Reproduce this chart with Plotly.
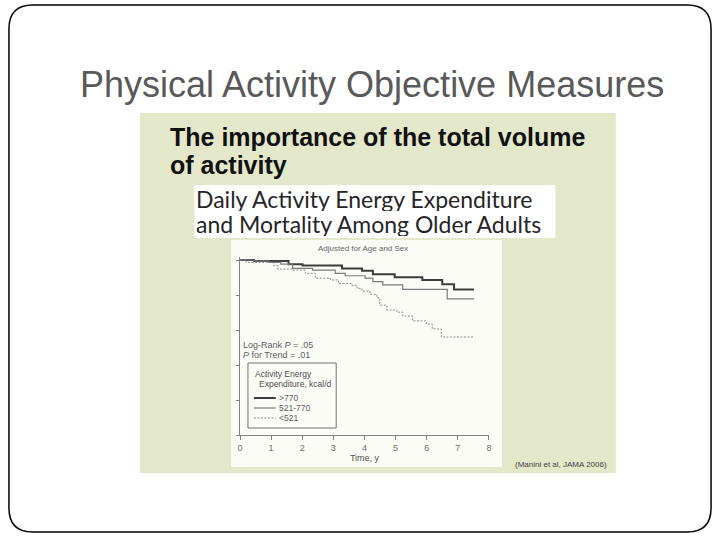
import plotly.graph_objects as go

W, H = 720, 540

# ---------------- data ----------------
series_names = ["&gt;770", "521-770", "&lt;521"]

t_high = [0, 0.45, 1.56, 2.01, 3.28, 3.92, 4.27, 4.97, 5.86, 6.50, 6.88, 7.52]
s_high = [1.0, 0.997, 0.988, 0.984, 0.976, 0.969, 0.959, 0.951, 0.943, 0.931, 0.916, 0.916]

t_mid = [0, 0.45, 0.92, 1.31, 1.69, 2.33, 3.06, 3.38, 4.02, 4.27, 4.59, 5.23, 6.66, 7.52]
s_mid = [1.0, 0.997, 0.993, 0.988, 0.976, 0.971, 0.962, 0.955, 0.948, 0.938, 0.929, 0.916, 0.889, 0.889]

t_low = [0, 0.20, 1.08, 1.21, 1.69, 2.10, 2.42, 2.90, 3.16, 3.60, 3.76, 3.92, 4.18, 4.40,
         4.49, 4.72, 5.04, 5.23, 5.55, 5.99, 6.18, 6.47, 7.52]
s_low = [1.0, 0.993, 0.984, 0.974, 0.971, 0.962, 0.948, 0.943, 0.933, 0.927, 0.919, 0.911, 0.902, 0.892,
         0.871, 0.857, 0.851, 0.840, 0.826, 0.817, 0.803, 0.780, 0.780]

x_ticks = [0, 1, 2, 3, 4, 5, 6, 7, 8]
y_ticks = [0.5, 0.6, 0.7, 0.8, 0.9, 1.0]

# ---------------- helpers (pixel -> paper) ----------------
def X(px):
    return px / W

def Y(py):
    return 1 - py / H

FONT = "Arial, Liberation Sans, sans-serif"

styles = [
    dict(color="#3c3c3c", width=2),
    dict(color="#7a7a7a", width=1.2),
    dict(color="#8a8a8a", width=1, dash="2px,1.5px"),
]

fig = go.Figure()
for tt, ss, nm, st in zip([t_high, t_mid, t_low], [s_high, s_mid, s_low], series_names, styles):
    fig.add_trace(go.Scatter(x=tt, y=ss, mode="lines", name=nm, showlegend=False,
                             line=dict(shape="hv", **st)))

# plot area: x 0 at px 239, 8 at px 490; y 0.5 at py 435, 0.1 per 35 px
y_top = 1.01
py_top = 435 - (y_top - 0.5) * 350
fig.update_layout(
    width=W, height=H,
    margin=dict(l=0, r=0, t=0, b=0),
    paper_bgcolor="white",
    plot_bgcolor="rgba(0,0,0,0)",
    showlegend=False,
    xaxis=dict(domain=[X(239), X(490)], range=[0, 8], tickvals=x_ticks,
               showgrid=False, zeroline=False, showline=True, linecolor="#808080", linewidth=1,
               ticks="outside", ticklen=4, tickcolor="#808080",
               tickfont=dict(family=FONT, size=9, color="#707070"),
               title=dict(text="Time, y", font=dict(family=FONT, size=9, color="#505050"), standoff=2)),
    yaxis=dict(domain=[Y(435), Y(py_top)], range=[0.5, y_top], tickvals=y_ticks,
               showticklabels=False, showgrid=False, zeroline=False, showline=True,
               linecolor="#808080", linewidth=1, ticks="outside", ticklen=3, tickcolor="#808080"),
)

shapes = [
    # beige panel
    dict(type="rect", xref="paper", yref="paper", x0=X(138), x1=X(618), y0=Y(473), y1=Y(113),
         fillcolor="#e4e8cb", line=dict(width=0), layer="below"),
    # white subtitle box
    dict(type="rect", xref="paper", yref="paper", x0=X(193), x1=X(557), y0=Y(238), y1=Y(185),
         fillcolor="white", line=dict(width=0), layer="below"),
    # chart inset
    dict(type="rect", xref="paper", yref="paper", x0=X(230), x1=X(503), y0=Y(467), y1=Y(240),
         fillcolor="#fcfcf7", line=dict(width=0), layer="below"),
    # legend box
    dict(type="rect", xref="paper", yref="paper", x0=X(247), x1=X(336), y0=Y(428), y1=Y(363),
         fillcolor="#fcfcf7", line=dict(color="#707070", width=1), layer="above"),
]

# legend samples
legend_rows = [398, 408, 418]
for py, st in zip(legend_rows, styles):
    shapes.append(dict(type="line", xref="paper", yref="paper", x0=X(253), x1=X(275),
                       y0=Y(py), y1=Y(py), line=st, layer="above"))

# rounded slide border
r = 24
l, rr, t, b = 6, 714, 5, 532
path = (f"M {X(l + r)},{Y(t)} L {X(rr - r)},{Y(t)} Q {X(rr)},{Y(t)} {X(rr)},{Y(t + r)} "
        f"L {X(rr)},{Y(b - r)} Q {X(rr)},{Y(b)} {X(rr - r)},{Y(b)} "
        f"L {X(l + r)},{Y(b)} Q {X(l)},{Y(b)} {X(l)},{Y(b - r)} "
        f"L {X(l)},{Y(t + r)} Q {X(l)},{Y(t)} {X(l + r)},{Y(t)} Z")
shapes.append(dict(type="path", xref="paper", yref="paper", path=path,
                   line=dict(color="black", width=1.5), fillcolor="rgba(0,0,0,0)", layer="above"))
fig.update_layout(shapes=shapes)

def ann(text, px, py, size, color, xanchor="left", family=FONT, height=None):
    fig.add_annotation(text=text, x=X(px), y=Y(py), xref="paper", yref="paper",
                       xanchor=xanchor, yanchor="middle", showarrow=False,
                       height=height, borderpad=0 if height else 1,
                       font=dict(family=family, size=size, color=color))

ann("Physical Activity Objective Measures", 372, 84, 36, "#595959", xanchor="center")
ann("<b>The importance of the total volume</b>", 166, 137, 25, "#111111")
ann("<b>of activity</b>", 166, 165, 25, "#111111")
ann("Daily Activity Energy Expenditure", 194, 198, 23, "#262626", family="Lato, sans-serif", height=25)
ann("and Mortality Among Older Adults", 194, 223, 23, "#262626", family="Lato, sans-serif", height=25)
ann("Adjusted for Age and Sex", 363, 248, 8, "#666666", xanchor="center")
ann("Log-Rank <i>P</i> = .05", 240, 345, 9, "#606060")
ann("<i>P</i> for Trend = .01", 240, 355, 9, "#606060")
ann("Activity Energy", 252, 374, 8.5, "#505050")
ann("Expenditure, kcal/d", 256, 384, 8.5, "#505050")
for py, nm in zip(legend_rows, series_names):
    ann(nm, 276, py, 8.5, "#606060")
ann("(Manini et al, JAMA 2006)", 514, 464, 8, "#404040")

fig.write_html("out.html")
